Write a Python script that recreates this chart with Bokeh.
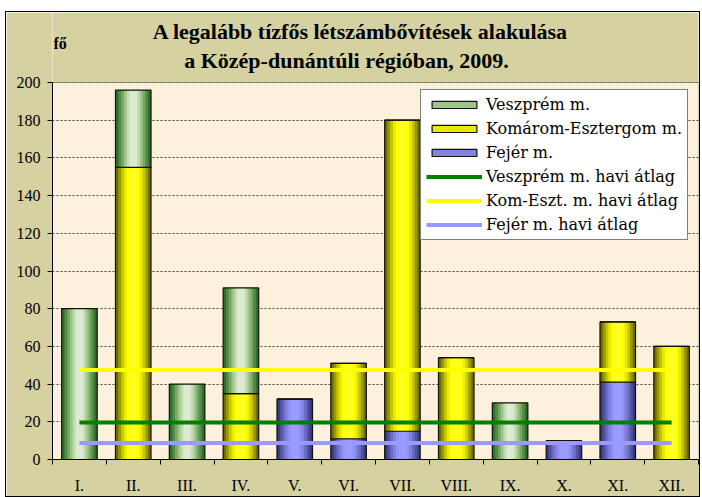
from bokeh.plotting import figure
from bokeh.models import (Range1d, FixedTicker, Legend, LegendItem, Label, BoxAnnotation)
from bokeh.embed import file_html
from bokeh.resources import INLINE
import numpy as np

months = ["I.", "II.", "III.", "IV.", "V.", "VI.", "VII.", "VIII.", "IX.", "X.", "XI.", "XII."]
veszprem = [80, 41, 40, 56, 0, 0, 0, 0, 30, 0, 0, 0]
komarom = [0, 155, 0, 35, 0, 40, 165, 54, 0, 0, 32, 60]
fejer = [0, 0, 0, 0, 32, 11, 15, 0, 0, 10, 41, 0]
avg_veszprem = 19.6
avg_komarom = 47.5
avg_fejer = 8.7
y_ticks = [0, 20, 40, 60, 80, 100, 120, 140, 160, 180, 200]
title1 = "A legalább tízfős létszámbővítések alakulása"
title2 = "a Közép-dunántúli régióban, 2009."
unit_label = "fő"

x = np.arange(1, len(months) + 1)
f = np.array(fejer, dtype=float)
k = np.array(komarom, dtype=float)
v = np.array(veszprem, dtype=float)

SERIF = "Liberation Serif"
OLIVE = "#D5D1A0"
CREAM = "#FDF1DE"

# layout (pixels): plot area 646 x 377, frame extended upward to hold the titles
FW, PH, FH = 646, 377, 447
y_max = y_ticks[-1]
y_top = y_max * FH / PH
x0, x1 = 0.5, len(months) + 0.5

def sx(px):      # pixel offset from plot-area left -> data x
    return x0 + px * (x1 - x0) / FW

def sy(py):      # pixel offset above plot-area bottom -> data y
    return py * y_max / PH

p = figure(frame_width=FW, frame_height=FH, output_backend="svg", toolbar_location=None,
           x_range=Range1d(x0, x1), y_range=Range1d(0, y_top),
           min_border_left=46, min_border_right=1, min_border_top=0, min_border_bottom=36)
p.border_fill_color = OLIVE
p.background_fill_color = CREAM
p.outline_line_color = None
p.styles = {"border": "1px solid black", "margin-left": "5px", "margin-top": "11px"}

# grid
p.xgrid.grid_line_color = None
p.ygrid.grid_line_color = "#444444"
p.ygrid.grid_line_dash = "2 2"
p.ygrid.grid_line_width = 1

# header band above the plot area
p.add_layout(BoxAnnotation(left=x0, right=x1, bottom=y_max, top=y_top, fill_color=OLIVE,
                           fill_alpha=1, line_color=None, level="underlay"))

def gradient_bars(bottom, top, colors):
    widths = np.linspace(0.66, 0.14, len(colors))
    rs = []
    for w, c in zip(widths, colors):
        rs.append(p.vbar(x=x, bottom=bottom, top=top, width=w, fill_color=c,
                         line_color=None))
    outline = p.vbar(x=x, bottom=bottom, top=top, width=0.66, fill_color=None,
                     line_color="#111111", line_width=1.2)
    return rs, outline

green = ["#2F6E2A", "#4E8A43", "#76A862", "#9FC48A", "#C3DBB0", "#DCEBCF"]
yellow = ["#6E6E00", "#9A9A00", "#C8C800", "#EAEA00", "#FFFF00", "#FFFF20"]
blue = ["#3A3A7E", "#5252A0", "#6C6CC4", "#8282E2", "#9292F8", "#9C9CFF"]

rf, of = gradient_bars(np.zeros_like(f), f, blue)
rk, ok = gradient_bars(f, f + k, yellow)
rv, ov = gradient_bars(f + k, f + k + v, green)

lx = [x[0], x[-1]]
lv = p.line(lx, [avg_veszprem] * 2, line_color="#008000", line_width=4)
lk = p.line(lx, [avg_komarom] * 2, line_color="#FFFF00", line_width=4)
lf = p.line(lx, [avg_fejer] * 2, line_color="#9999FF", line_width=4)

# plot-area border
p.add_layout(BoxAnnotation(left=x0, right=x1, bottom=0, top=y_max, fill_color=None,
                           line_color="black", line_width=1, level="annotation"))

# axes
p.yaxis.ticker = FixedTicker(ticks=y_ticks)
p.yaxis.bounds = (0, y_max)
p.yaxis.axis_line_color = "black"
p.yaxis.major_tick_out = 5
p.yaxis.major_tick_in = 0
p.yaxis.minor_tick_line_color = None
p.yaxis.major_label_text_font = SERIF
p.yaxis.major_label_text_font_size = "16px"
p.yaxis.major_label_text_color = "black"
p.yaxis.major_label_standoff = 7

p.xaxis.ticker = FixedTicker(ticks=list(x), minor_ticks=list(np.arange(0.5, 13, 1.0)))
p.xaxis.major_label_overrides = {int(i): m for i, m in zip(x, months)}
p.xaxis.major_tick_line_color = None
p.xaxis.major_tick_out = 0
p.xaxis.minor_tick_out = 5
p.xaxis.minor_tick_in = 0
p.xaxis.minor_tick_line_color = "black"
p.xaxis.axis_line_color = "black"
p.xaxis.major_label_text_font = SERIF
p.xaxis.major_label_text_font_size = "16px"
p.xaxis.major_label_text_color = "black"
p.xaxis.major_label_standoff = 12

legend = Legend(items=[
    LegendItem(label="Veszprém m.", renderers=[rv[3], ov]),
    LegendItem(label="Komárom-Esztergom m.", renderers=[rk[3], ok]),
    LegendItem(label="Fejér m.", renderers=[rf[3], of]),
    LegendItem(label="Veszprém m. havi átlag", renderers=[lv]),
    LegendItem(label="Kom-Eszt. m. havi átlag", renderers=[lk]),
    LegendItem(label="Fejér m. havi átlag", renderers=[lf]),
], location=(368, 219))
legend.background_fill_color = "white"
legend.background_fill_alpha = 1
legend.border_line_color = "black"
legend.border_line_width = 1
legend.label_text_font = "DejaVu Serif"
legend.label_text_font_size = "16px"
legend.label_text_color = "black"
legend.glyph_width = 56
legend.glyph_height = 9
legend.label_height = 19
legend.spacing = 5
legend.padding = 5
legend.margin = 0
legend.label_standoff = 4
p.add_layout(legend, "center")

p.add_layout(Label(x=sx(308), y=sy(428), text=title1, text_font=SERIF,
                   text_font_style="bold", text_font_size="22px", text_align="center",
                   text_baseline="middle", text_color="black"))
p.add_layout(Label(x=sx(294), y=sy(399), text=title2, text_font=SERIF,
                   text_font_style="bold", text_font_size="22px", text_align="center",
                   text_baseline="middle", text_color="black"))
p.add_layout(Label(x=sx(1), y=sy(416), text=unit_label, text_font=SERIF,
                   text_font_style="bold", text_font_size="16px", text_align="left",
                   text_baseline="middle", text_color="black"))

open("out.html", "w").write(file_html(p, INLINE))
